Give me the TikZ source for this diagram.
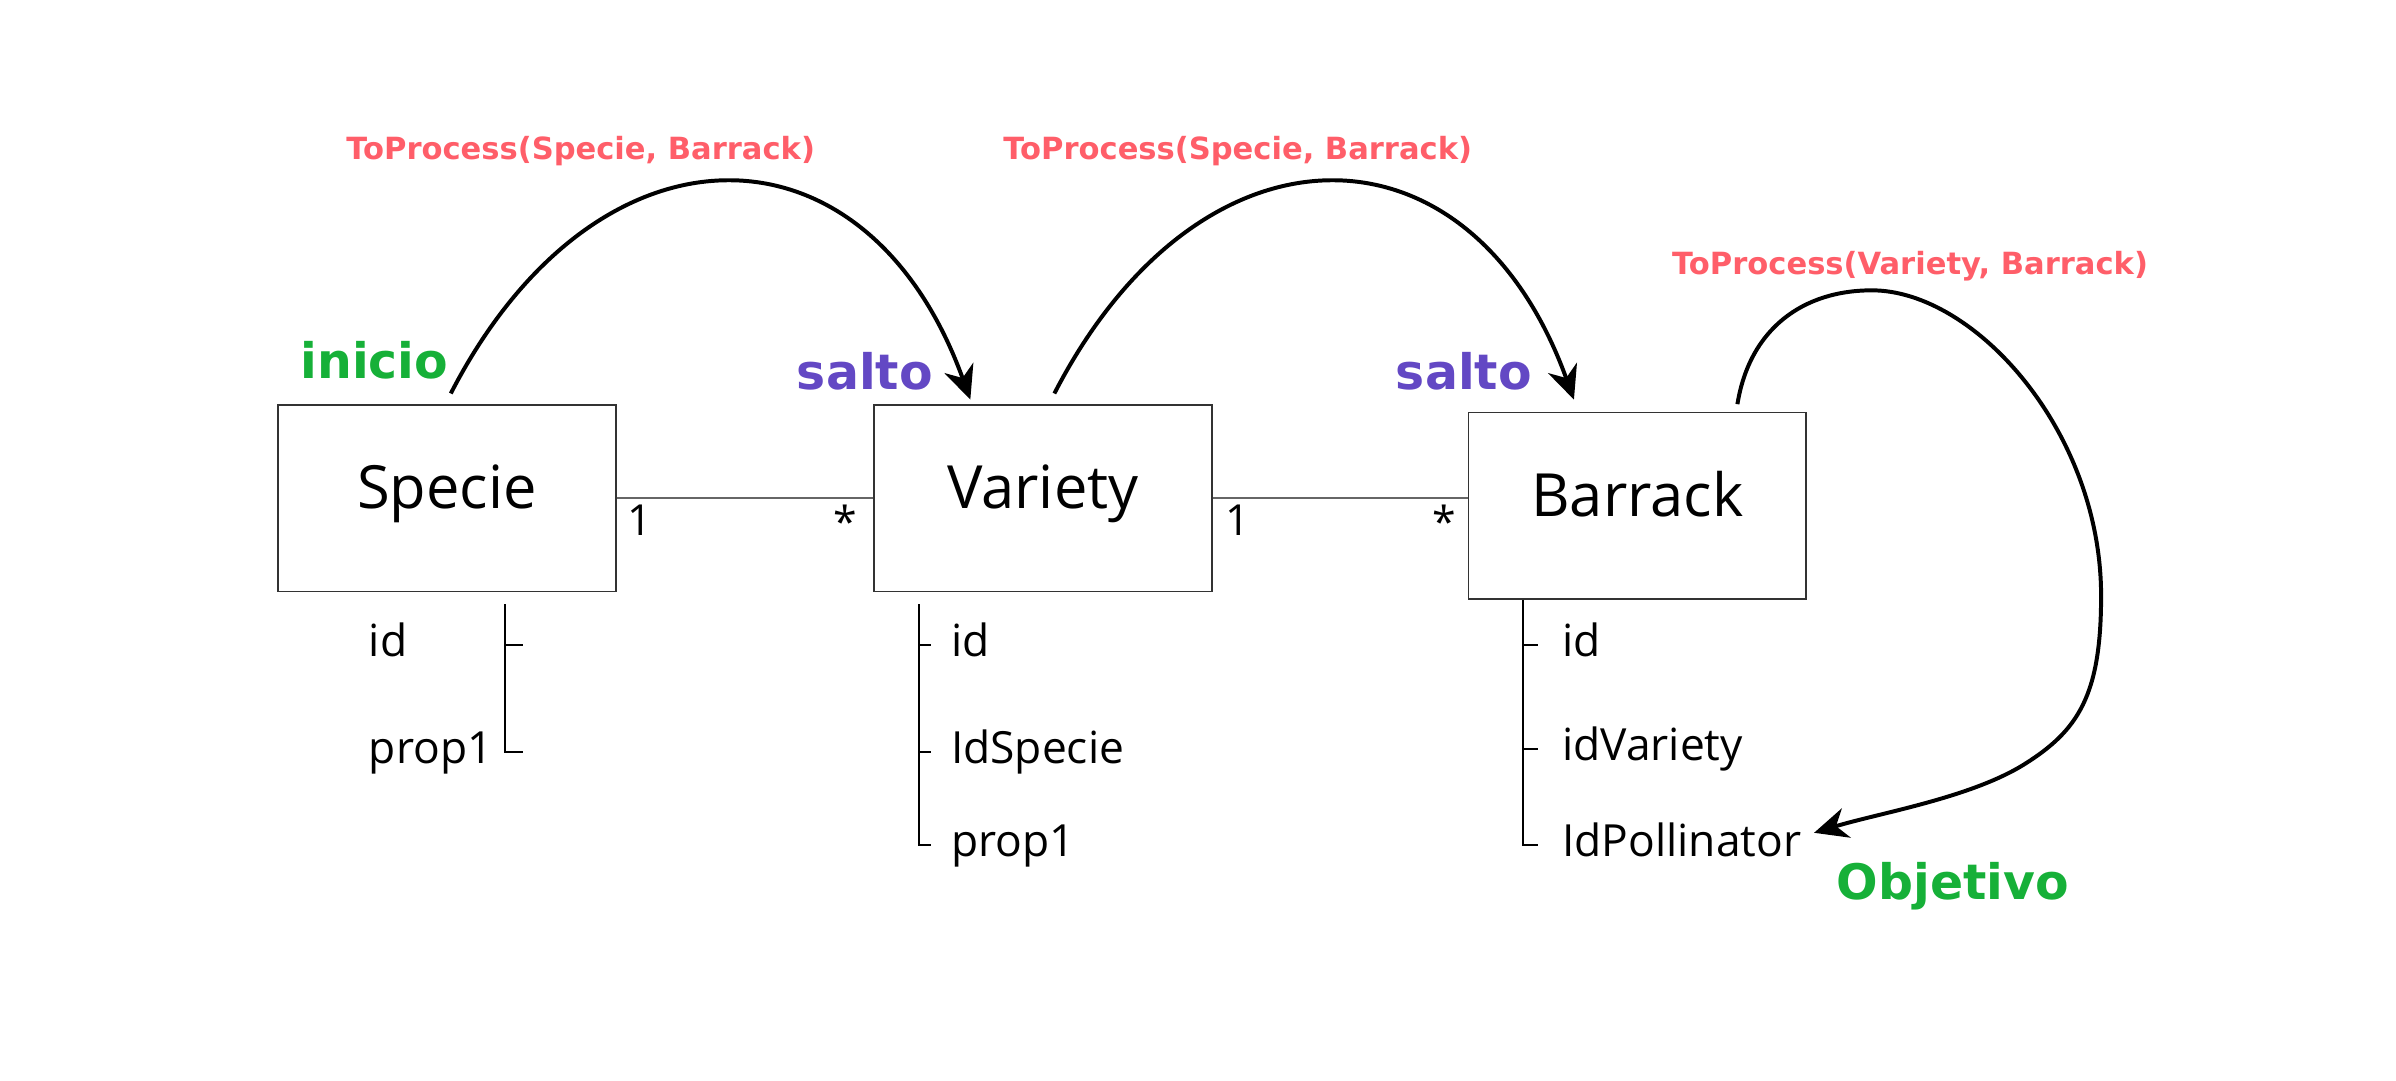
\documentclass[tikz,border=0pt]{standalone}
\usepackage{fontspec}
\setmainfont{Open Sans}
\newfontfamily\tagfont{DejaVu Sans}
\usetikzlibrary{arrows.meta}
\definecolor{procred}{RGB}{255,94,105}
\definecolor{startgreen}{RGB}{22,176,56}
\definecolor{jumppurple}{RGB}{99,72,196}
\tikzset{
  entity/.style={draw=black!80, line width=0.5pt, minimum width=110.5pt, minimum height=61pt, inner sep=0pt, text height=0.78em, text depth=0.1em, font=\fontsize{19.5}{22}\selectfont},
  attr/.style={anchor=west, inner sep=0pt, text height=0.76em, text depth=0pt, font=\fontsize{14.5}{17}\selectfont},
  mult/.style={inner sep=2pt, font=\fontsize{14}{17}\selectfont},
  assoc/.style={draw=black!60, line width=0.5pt},
  tree/.style={line width=0.75pt},
  jump/.style={line width=1.3pt, -{Stealth[length=11pt, width=10pt, inset=3.5pt]}},
  proc/.style={text=procred, font=\tagfont\bfseries\fontsize{10}{12}\selectfont},
  steplabel/.style={font=\tagfont\bfseries\fontsize{16}{19}\selectfont}
}
\begin{document}
\begin{tikzpicture}[x=0.5pt,y=-0.5pt]
        \useasboundingbox (0,0) rectangle (1568,707);
        \node[entity] (specie) at (292.5,326) {Specie};
        \node[entity] (variety) at (682.5,326) {Variety};
        \node[entity] (barrack) at (1071.5,331) {Barrack};
        \draw[assoc] (specie) -- node[mult,pos=0.09,below] {1} node[mult,pos=0.89,below] {*} (variety);
        \draw[assoc] (variety.east) -- node[mult,pos=0.1,below] {1} node[mult,pos=0.91,below] {*} (variety.east -| barrack.west);
        \node[attr] (sid) at (241,422) {id};
        \node[attr] (sprop) at (241,492) {prop1};
        \node[attr] (vid) at (622,422) {id};
        \node[attr] (vidspecie) at (622,492) {IdSpecie};
        \node[attr] (vprop) at (622,553) {prop1};
        \node[attr] (bid) at (1022,422) {id};
        \node[attr] (bidvariety) at (1022,490) {idVariety};
        \node[attr] (bpoll) at (1022,553) {IdPollinator};
        \coordinate (strunk) at ([xshift=74.5pt,yshift=-4pt]specie.south west);
        \coordinate (vtrunk) at ([xshift=15pt,yshift=-4pt]variety.south west);
        \coordinate (btrunk) at ([xshift=18pt]barrack.south west);
        \draw[tree] (strunk) -- (strunk |- sprop) -- ++(6pt,0);
        \draw[tree] (strunk |- sid) -- ++(6pt,0);
        \draw[tree] (vtrunk) -- (vtrunk |- vprop) -- ++(4pt,0);
        \foreach \a in {vid,vidspecie}
        \draw[tree] (vtrunk |- \a) -- ++(4pt,0);
        \draw[tree] (btrunk) -- (btrunk |- bpoll) -- ++(5pt,0);
        \foreach \a in {bid,bidvariety}
        \draw[tree] (btrunk |- \a) -- ++(5pt,0);
        \draw[jump] ([xshift=1.25pt,yshift=3.5pt]specie.north) .. controls (390,73) and (567,73) .. ([xshift=-23.75pt,yshift=1.5pt]variety.north);
        \draw[jump] ([xshift=3.75pt,yshift=3.5pt]variety.north) .. controls (785,73) and (962,73) .. ([xshift=-20.75pt,yshift=4pt]barrack.north);
        \draw[jump] ([xshift=32.75pt,yshift=2.5pt]barrack.north) .. controls (1145,215) and (1180,190) .. (1225,190)
          .. controls (1292,190) and (1375,282) .. (1375,390)
          .. controls (1375,455) and (1360,478) .. (1325,500)
          .. controls (1290,522) and (1230,532) .. ([xshift=4pt,yshift=4pt]bpoll.east);
        \node[proc] (proc1) at (380,99) {ToProcess(Specie, Barrack)};
        \node[proc] (proc2) at (810,99) {ToProcess(Specie, Barrack)};
        \node[proc] (proc3) at (1250,174) {ToProcess(Variety, Barrack)};
        \node[steplabel,text=startgreen] (inicio) at (245,236) {inicio};
        \node[steplabel,text=jumppurple] (salto1) at (566,243) {salto};
        \node[steplabel,text=jumppurple] (salto2) at (958,243) {salto};
        \node[steplabel,text=startgreen] (objetivo) at (1278,580) {Objetivo};
\end{tikzpicture}
\end{document}
